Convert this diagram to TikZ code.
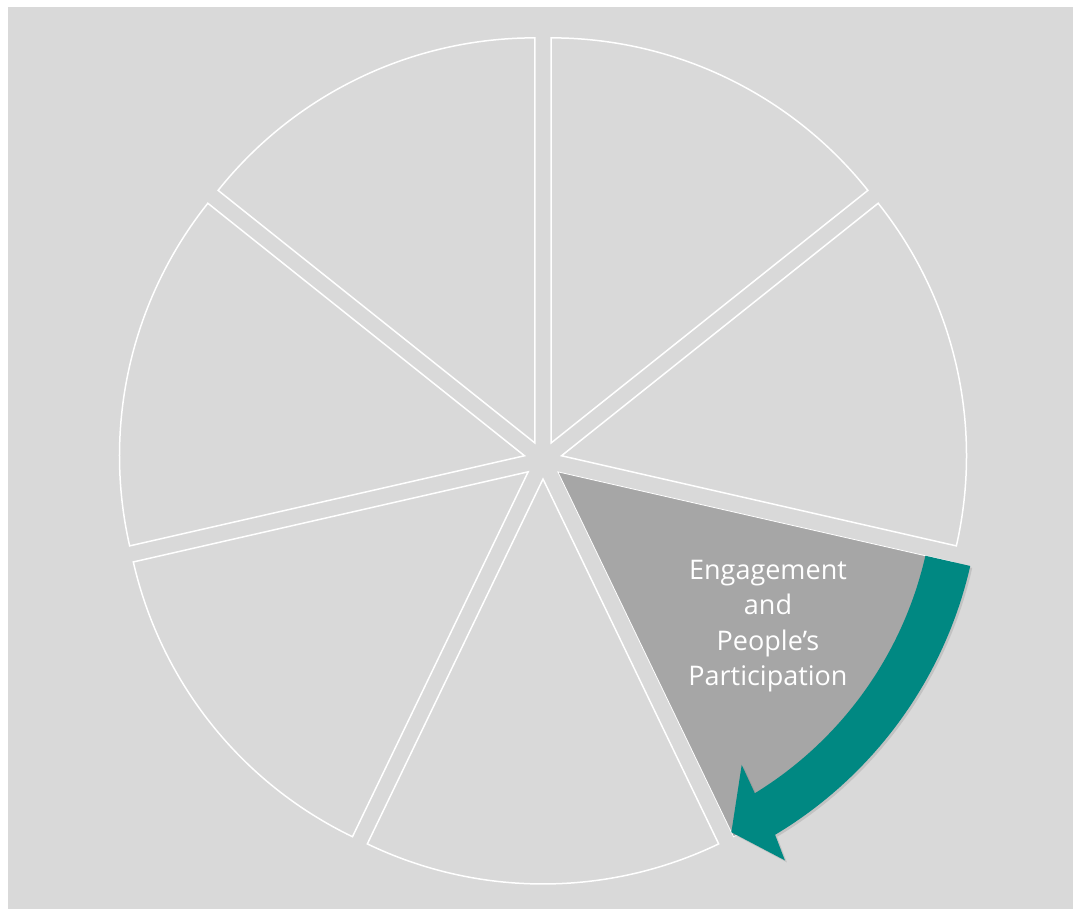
\documentclass[tikz,border=0pt]{standalone}
\usepackage{fontspec}
\setmainfont{Open Sans}
\usetikzlibrary{calc,shadows}
\definecolor{bggray}{HTML}{D9D9D9}
\definecolor{markgray}{HTML}{A6A6A6}
\definecolor{arrowteal}{HTML}{008882}

\begin{document}
\begin{tikzpicture}[x=1pt,y=1pt,
    piece/.style={fill=bggray,draw=white,line width=1.5pt},
    markpiece/.style={fill=markgray,draw=white,line width=0.8pt},
    turn/.style={fill=arrowteal,drop shadow={opacity=0.25,shadow xshift=2pt,shadow yshift=-2pt}}]
  \useasboundingbox (0,0) rectangle (1073,909);
  \fill[bggray] (8,0) rectangle (1073,902);

  \coordinate (C) at (543,449);

  % the seven pieces, each pushed out along its middle
  \draw[piece] ($(C)+(64.29:19)$) -- ++(38.57:405) arc[start angle=38.57,end angle=90,radius=405] -- cycle;
  \draw[piece] ($(C)+(12.86:19)$) -- ++(-12.86:405) arc[start angle=-12.86,end angle=38.57,radius=405] -- cycle;
  \draw[piece] ($(C)+(-90:19)$) -- ++(-115.71:405) arc[start angle=-115.71,end angle=-64.29,radius=405] -- cycle;
  \draw[piece] ($(C)+(-141.43:19)$) -- ++(-167.14:405) arc[start angle=-167.14,end angle=-115.71,radius=405] -- cycle;
  \draw[piece] ($(C)+(-192.86:19)$) -- ++(-218.57:405) arc[start angle=-218.57,end angle=-167.14,radius=405] -- cycle;
  \draw[piece] ($(C)+(-244.29:19)$) -- ++(-270:405) arc[start angle=-270,end angle=-218.57,radius=405] -- cycle;

  \coordinate (H) at ($(C)+(-38.57:19)$);
  \draw[markpiece] (H) -- ++(-64.29:405) arc[start angle=-64.29,end angle=-12.86,radius=405] -- cycle;

  \node[font=\fontsize{27}{35.5}\selectfont,text=white,align=center] (label) at (768,283)
    {Engagement\\and\\People’s\\Participation};

  % curved arrow round the marked piece
  \fill[turn] ($(H)+(-12.86:423)$) arc[start angle=-12.86,end angle=-59.1,radius=423]
    -- ($(H)+(-59.7:450)$) -- ($(H)+(-64.29:400)$) -- ($(H)+(-57.9:346)$)
    -- ($(H)+(-58.5:377)$) arc[start angle=-58.5,end angle=-12.86,radius=377] -- cycle;
\end{tikzpicture}
\end{document}
